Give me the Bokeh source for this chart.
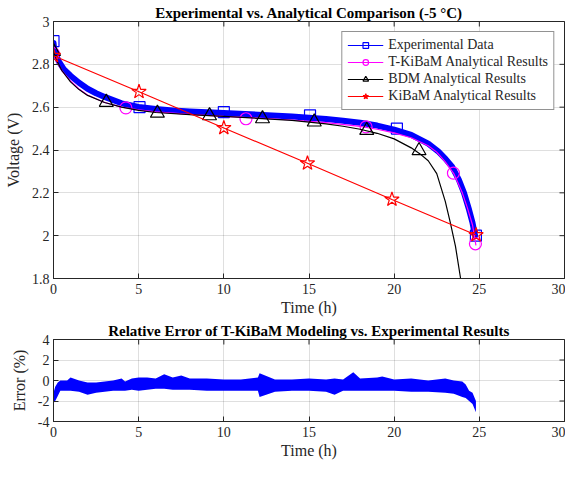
import math
from bokeh.plotting import figure
from bokeh.layouts import column
from bokeh.models import (Range1d, FixedTicker, CustomJSTickFormatter,
                          Legend, LegendItem, Title)
from bokeh.embed import file_html
from bokeh.resources import INLINE

# ---------------- data ----------------
# Experimental voltage (centre of the noisy band)
exp_t = [0, 0.05, 0.3, 0.6, 1.0, 1.5, 2.0, 2.5, 3.0, 4.0, 5.0, 6.0, 7.0, 8.0, 10.0,
         12.0, 14.0, 15.0, 16.0, 17.0, 18.0, 19.0, 20.0, 21.0, 22.0, 22.6, 23.0,
         23.4, 23.8, 24.1, 24.4, 24.6, 24.75]
exp_v = [2.90, 2.865, 2.815, 2.778, 2.747, 2.714, 2.686, 2.665, 2.648, 2.618, 2.601,
         2.591, 2.585, 2.580, 2.573, 2.565, 2.556, 2.551, 2.545, 2.537, 2.527, 2.514,
         2.495, 2.471, 2.430, 2.392, 2.360, 2.322, 2.260, 2.200, 2.120, 2.060, 2.000]
exp_mk_t = [0, 5.05, 10.0, 15.06, 20.16, 24.8]
exp_mk_v = [2.908, 2.600, 2.577, 2.562, 2.500, 2.000]

# T-KiBaM analytical
tk_t = [0, 0.2, 0.5, 1, 1.5, 2, 3, 4, 5, 6, 8, 10, 12, 14, 16, 18, 19, 20, 21, 22,
        22.5, 23, 23.5, 24, 24.3, 24.6, 24.8]
tk_v = [2.85, 2.81, 2.77, 2.722, 2.685, 2.657, 2.622, 2.600, 2.588, 2.578, 2.566,
        2.557, 2.549, 2.540, 2.528, 2.510, 2.497, 2.480, 2.457, 2.420, 2.390, 2.345,
        2.290, 2.200, 2.130, 2.050, 1.955]
tk_mk_t = [0, 4.25, 11.3, 18.35, 23.48, 24.77]
tk_mk_v = [2.850, 2.597, 2.546, 2.508, 2.292, 1.962]

# BDM analytical
bdm_t = [0, 0.2, 0.5, 1, 1.5, 2, 3, 4, 5, 6, 8, 10, 12, 14, 16, 17, 18, 19, 20, 21,
         21.5, 22, 22.5, 23, 23.3, 23.6, 23.9]
bdm_v = [2.86, 2.815, 2.77, 2.718, 2.682, 2.655, 2.622, 2.600, 2.585, 2.575, 2.565,
         2.557, 2.548, 2.538, 2.522, 2.511, 2.497, 2.478, 2.452, 2.410, 2.383, 2.350,
         2.290, 2.160, 2.060, 1.950, 1.800]
bdm_mk_t = [0, 3.1, 6.1, 9.16, 12.27, 15.31, 18.39, 21.46]
bdm_mk_v = [2.860, 2.623, 2.572, 2.560, 2.546, 2.531, 2.492, 2.397]

# KiBaM analytical
kb_t = [0, 5.02, 10.0, 14.91, 19.87, 24.81]
kb_v = [2.84, 2.672, 2.503, 2.338, 2.169, 2.003]

# Relative error of T-KiBaM (lower / upper edges of the noisy band, %)
err_t = [0, 0.1, 0.25, 0.4, 0.8, 1.0, 1.5, 2.0, 2.5, 3.0, 3.5, 4.0, 4.2, 4.6, 5.0,
         5.5, 6.0, 6.5, 7.0, 7.5, 8.0, 9.0, 10.0, 11.0, 12.0, 12.1, 13.0, 14.0, 15.0,
         16.0, 16.5, 17.0, 17.6, 18.0, 19.0, 19.3, 20.0, 21.0, 22.0, 23.0, 23.5, 24.0,
         24.2, 24.4, 24.6, 24.8]
err_lo = [-2.2, -2.0, -1.5, -1.0, -1.0, -1.0, -1.1, -1.4, -1.2, -1.1, -1.0, -1.0,
          -1.0, -0.9, -1.0, -0.9, -0.8, -0.8, -0.9, -0.9, -0.9, -1.0, -1.0, -1.0,
          -1.0, -1.6, -1.1, -1.0, -1.0, -1.1, -1.4, -1.0, -1.0, -1.0, -1.0, -1.0,
          -1.0, -1.1, -1.1, -1.2, -1.3, -1.6, -1.7, -2.0, -2.3, -3.1]
err_hi = [-1.2, -0.6, -0.2, 0.0, 0.0, 0.3, 0.0, -0.2, -0.2, -0.1, 0.0, 0.2, -0.1,
          0.2, 0.3, 0.3, 0.2, 0.6, 0.3, 0.5, 0.2, 0.2, 0.1, 0.1, 0.3, 0.7, 0.1, 0.1,
          0.2, 0.1, 0.2, 0.1, 0.8, 0.2, 0.3, 0.4, 0.1, 0.2, 0.0, 0.2, 0.0, -0.1,
          -0.4, -1.0, -1.2, -2.0]

x_ticks = [0, 5, 10, 15, 20, 25, 30]
v_ticks = [1.8, 2.0, 2.2, 2.4, 2.6, 2.8, 3.0]
e_ticks = [-4, -2, 0, 2, 4]

title_top = "Experimental vs. Analytical Comparison (-5 \u00b0C)"
title_bot = "Relative Error of T-KiBaM Modeling vs. Experimental Results"

# ---------------- styling helpers ----------------
FONT = "Liberation Serif"
AX = "#262626"
fmt = CustomJSTickFormatter(code="return (Math.round(tick*10)/10).toString();")


def style(p, xt, yt, xlabel, ylabel, title):
    p.outline_line_color = AX
    p.outline_line_width = 1
    for ax in (p.xaxis[0], p.yaxis[0]):
        ax.axis_line_color = AX
        ax.major_tick_line_color = AX
        ax.major_tick_in = 5
        ax.major_tick_out = 0
        ax.minor_tick_line_color = None
        ax.major_label_text_font = FONT
        ax.major_label_text_font_size = "14px"
        ax.major_label_text_color = AX
        ax.axis_label_text_font = FONT
        ax.axis_label_text_font_size = "16px"
        ax.axis_label_text_font_style = "normal"
        ax.axis_label_text_color = AX
        ax.formatter = fmt
    p.xaxis[0].ticker = FixedTicker(ticks=xt)
    p.yaxis[0].ticker = FixedTicker(ticks=yt)
    p.xaxis[0].axis_label = xlabel
    p.yaxis[0].axis_label = ylabel
    p.xaxis[0].major_label_standoff = 5
    p.xaxis[0].axis_label_standoff = 2
    p.yaxis[0].major_label_standoff = 4
    p.yaxis[0].axis_label_standoff = 7
    p.grid.grid_line_color = AX
    p.grid.grid_line_alpha = 0.15
    p.grid.grid_line_width = 1
    p.xgrid.ticker = FixedTicker(ticks=xt)
    p.ygrid.ticker = FixedTicker(ticks=yt)
    p.title = Title(text=title, align="center", text_font=FONT, text_font_size="15px",
                    text_font_style="bold", text_color="black", standoff=1, offset=0)
    # inward box ticks on the top and right edges (half of each dash is clipped)
    p.scatter(x=xt, y=[yt[-1]] * len(xt), marker="dash", angle=math.pi / 2, size=10,
              line_color=AX, line_width=1)
    p.scatter(x=[xt[-1]] * len(yt), y=yt, marker="dash", size=10,
              line_color=AX, line_width=1)


# ---------------- top figure ----------------
p1 = figure(width=565, height=318, output_backend="svg", toolbar_location=None,
            x_range=Range1d(0, 30), y_range=Range1d(1.8, 3.0),
            min_border_left=53, min_border_right=1, min_border_top=21,
            min_border_bottom=40)
style(p1, x_ticks, v_ticks, "Time (h)", "Voltage (V)", title_top)

exp_thick = p1.line(exp_t, exp_v, line_color="#0000ff", line_width=6,
                    line_join="round", line_cap="round")
exp_thin = p1.line(exp_t, exp_v, line_color="#0000ff", line_width=1)
exp_mk = p1.scatter(exp_mk_t, exp_mk_v, marker="square", size=11, fill_color=None,
                    line_color="#0000ff", line_width=1.2)

tk_line = p1.line(tk_t, tk_v, line_color="#ff00ff", line_width=1.2)
tk_mk = p1.scatter(tk_mk_t, tk_mk_v, marker="circle", size=12, fill_color=None,
                   line_color="#ff00ff", line_width=1.2)

bdm_line = p1.line(bdm_t, bdm_v, line_color="black", line_width=1.2)
bdm_mk = p1.scatter(bdm_mk_t, bdm_mk_v, marker="triangle", size=14, fill_color=None,
                    line_color="black", line_width=1.2)

kb_line = p1.line(kb_t, kb_v, line_color="#ff0000", line_width=1.2)
kb_mk = p1.scatter(kb_t, kb_v, marker="star", size=15, fill_color=None,
                   line_color="#ff0000", line_width=1.2)

legend = Legend(items=[
    LegendItem(label="Experimental Data", renderers=[exp_thin, exp_mk]),
    LegendItem(label="T-KiBaM Analytical Results", renderers=[tk_line, tk_mk]),
    LegendItem(label="BDM Analytical Results", renderers=[bdm_line, bdm_mk]),
    LegendItem(label="KiBaM Analytical Results", renderers=[kb_line, kb_mk]),
], location="top_right")
legend.margin = 10
legend.padding = 5
legend.spacing = 1
legend.glyph_width = 36
legend.glyph_height = 14
legend.label_height = 14
legend.label_standoff = 5
legend.label_text_font = FONT
legend.label_text_font_size = "14px"
legend.label_text_color = AX
legend.border_line_color = AX
legend.border_line_width = 1
legend.background_fill_color = "white"
legend.background_fill_alpha = 1
p1.add_layout(legend, "center")

# ---------------- bottom figure ----------------
p2 = figure(width=565, height=143, output_backend="svg", toolbar_location=None,
            x_range=Range1d(0, 30), y_range=Range1d(-4, 4),
            min_border_left=53, min_border_right=1, min_border_top=21,
            min_border_bottom=39)
style(p2, x_ticks, e_ticks, "Time (h)", "Error (%)", title_bot)
p2.varea(x=err_t, y1=err_lo, y2=err_hi, fill_color="#0000ff")

layout = column(p1, p2, spacing=0)
open("out.html", "w").write(file_html(layout, INLINE))
